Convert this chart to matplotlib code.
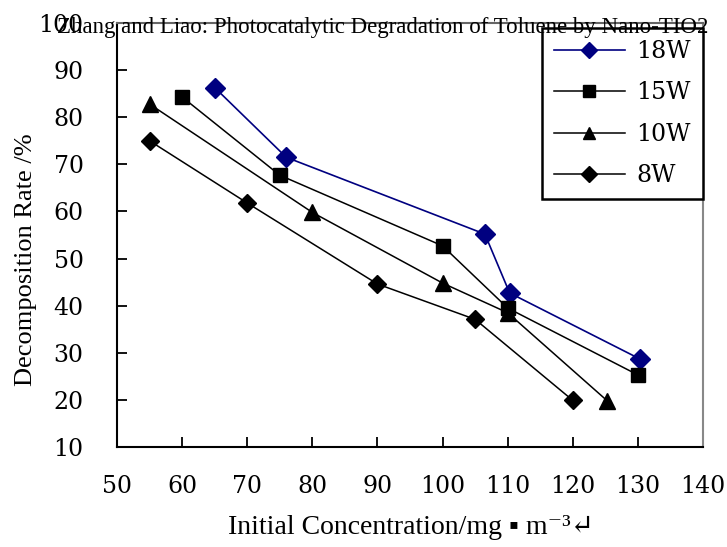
import numpy as np
import matplotlib.pyplot as plt

# data
x18 = [65, 76, 106.5, 110.3, 130.3]
y18 = [86.3, 71.5, 55.2, 42.7, 28.7]

x15 = [60, 75, 100, 110, 130]
y15 = [84.3, 67.7, 52.7, 39.5, 25.3]

x10 = [55, 80, 100, 110, 125.3]
y10 = [82.8, 59.8, 44.8, 38.5, 19.8]

x8 = [55, 70, 90, 105, 120]
y8 = [75.0, 61.8, 44.6, 37.1, 19.9]

xticks = [50, 60, 70, 80, 90, 100, 110, 120, 130, 140]
yticks = [10, 20, 30, 40, 50, 60, 70, 80, 90, 100]

plt.rcParams['font.family'] = ['DejaVu Serif', 'DejaVu Sans']

fig = plt.figure(figsize=(7.27, 5.47), dpi=100)
ax = fig.add_axes([0.161, 0.1828, 0.806, 0.775])

ax.plot(x18, y18, color="#000080", lw=1.2, marker="D", ms=10, label="18W")
ax.plot(x15, y15, color="black", lw=1.1, marker="s", ms=10, label="15W")
ax.plot(x10, y10, color="black", lw=1.1, marker="^", ms=11, label="10W")
ax.plot(x8, y8, color="black", lw=1.1, marker="D", ms=9, label="8W")

ax.set_xlim(50, 140)
ax.set_ylim(10, 100)
ax.set_xticks(xticks)
ax.set_yticks(yticks)
ax.tick_params(direction="in", length=7, width=1.3, labelsize=17)
ax.tick_params(axis="x", pad=20)
ax.tick_params(axis="y", pad=24)
for s in ax.spines.values():
    s.set_linewidth(1.5)
ax.spines["top"].set_color("#666666")
ax.spines["right"].set_color("#888888")

ax.set_xlabel("Initial Concentration/mg \u25aa m\u207b\u00b3\u21b5", fontsize=20,
              family=["Liberation Serif", "DejaVu Serif", "DejaVu Sans"])
ax.xaxis.set_label_coords(0.502, -0.160)
ax.set_ylabel("Decomposition Rate /%", fontsize=19, family="Liberation Serif")
ax.yaxis.set_label_coords(-0.137, 0.443)

leg = ax.legend(loc="upper right", bbox_to_anchor=(1.0, 0.988), borderaxespad=0,
                fontsize=17, frameon=True, fancybox=False, framealpha=1,
                edgecolor="black", handlelength=3.0, handletextpad=0.5,
                labelspacing=0.78, borderpad=0.5, markerscale=0.85)
leg.get_frame().set_linewidth(1.8)

fig.text(0.527, 0.94, "Zhang and Liao: Photocatalytic Degradation of Toluene by Nano-TIO2",
         ha="center", va="baseline", fontsize=16.5, family="Liberation Serif")

plt.savefig("out.png")
